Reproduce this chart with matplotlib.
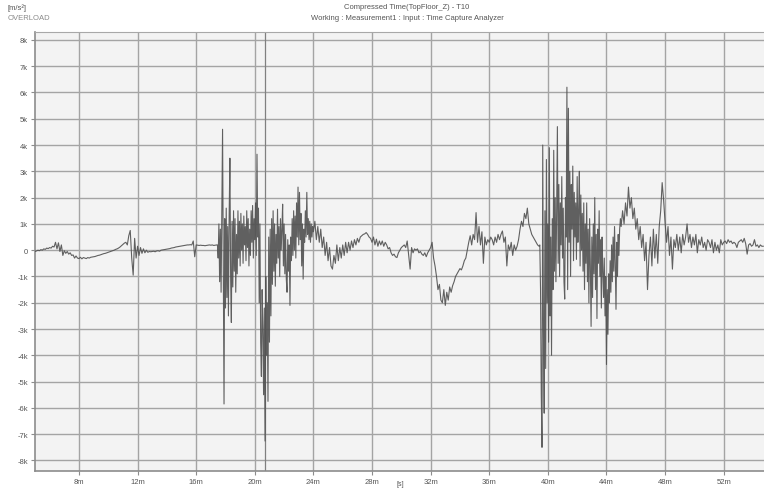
import numpy as np
import matplotlib
matplotlib.use("Agg")
import matplotlib.pyplot as plt

plt.rcParams['font.family'] = ['Liberation Sans Narrow', 'Liberation Sans', 'DejaVu Sans']

# Acceleration record, time axis in "m", amplitude in k (x1000 m/s^2).
# Each block is evenly sampled: start time, sample step, values.
pre_start, pre_step = 5.0, 0.1
pre_vals = [
    -0.05, -0.03, 0.0, -0.02, 0.02, 0.0, 0.05, 0.03, 0.08, 0.06,
    0.1, 0.08, 0.15, 0.12, 0.3, 0.05, 0.28, -0.05, 0.2, -0.2,
    -0.02, -0.12, -0.05, -0.15, -0.1, -0.2, -0.18, -0.3, -0.22, -0.3,
    -0.32, -0.27, -0.33, -0.28, -0.3, -0.32, -0.28, -0.3, -0.27, -0.26,
    -0.25, -0.24, -0.22, -0.2, -0.19, -0.17, -0.15, -0.13, -0.12, -0.1,
    -0.08, -0.06, -0.04, -0.02, 0.0, 0.03, 0.05, 0.08, 0.12, 0.17,
    0.22, 0.27, 0.3, 0.2, 0.55, 0.75, -0.3, -0.95, 0.45, -0.3,
    0.15, -0.2, 0.1, -0.12, 0.05, -0.1, 0.0, -0.08, -0.05, -0.06,
    -0.05, -0.04, -0.06, -0.03, -0.02, -0.04, 0.0, 0.01, 0.02, 0.03,
    0.04, 0.05, 0.06, 0.08, 0.09, 0.1, 0.12, 0.13, 0.14, 0.15,
    0.16, 0.17, 0.18, 0.19, 0.2, 0.2, 0.21, 0.2, 0.35, -0.25,
    0.2, 0.19, 0.18, 0.19, 0.18, 0.18, 0.17, 0.18, 0.19, 0.2,
    0.19, 0.2, 0.18, 0.19, 0.2,
]

burst1_start, burst1_step = 17.45, 0.05
burst1_vals = [
    0.2, -0.3, 1.0, -1.2, 0.8, -1.6, 1.5, 4.6, -1.0, -5.85,
    1.2, -2.2, 1.6, -1.8, 0.9, -2.5, 1.3, 3.5, -1.0, -2.75,
    1.1, -1.4, 1.5, -0.8, 1.2, -1.6, 0.6, -0.9, 1.5, -0.3,
    1.1, -0.6, 1.4, 0.0, 1.0, -0.5, 1.3, 0.2, 0.9, -0.4,
    1.5, 0.1, 1.2, -0.6, 0.8, -0.2, 1.5, 0.3, 1.7, -0.3,
    1.2, 0.4, 1.8, -0.2, 3.65, 0.5, 1.6, -2.0, 1.0, -3.5,
    -4.8, -1.5, -3.0, -5.5, -2.2, -7.26, -1.0, -4.0, -2.0, -5.75,
    0.5, -3.5, 0.8, -2.5, 1.2, -1.3, 1.5, -0.8, 1.0, -1.37,
    0.6, -0.5, 1.56, -0.3, 0.9, -1.0, 1.2, 0.0, 0.8, 1.75,
    -0.6, 1.0, -0.9, 0.6, -1.1, -1.6, 0.4, -0.8, 0.2, -2.1,
    0.5, -0.4, 1.2, -0.2, 1.5, 0.0, 1.3, -0.3, 1.8, 0.5,
    2.4, 0.2, 2.2, 0.4, 1.4, -0.6, 1.0, -1.1, 0.8, 0.3,
    1.5, 0.5, 2.2, 0.6, 1.2, 0.4, 1.1, 0.3, 1.0, 0.5,
    0.9,
]

mid_start, mid_step = 24.0, 0.1
mid_vals = [
    0.7, 1.1, 0.4, 0.9, 0.3, 0.8, 0.1, 0.5, -0.2, 0.3,
    -0.4, 0.1, -0.6, -0.72, -0.2, -0.5, 0.2, -0.4, 0.1, -0.3,
    0.2, -0.2, 0.3, -0.1, 0.3, 0.0, 0.35, 0.1, 0.4, 0.2,
    0.45, 0.3, 0.5, 0.55, 0.6, 0.62, 0.67, 0.6, 0.5, 0.45,
    0.3, 0.5, 0.2, 0.42, 0.15, 0.35, 0.2, 0.35, 0.15, 0.3,
    0.2, 0.05, 0.1, -0.1, -0.2, -0.15, -0.25, -0.28, -0.1, 0.0,
    0.1, 0.15, 0.2, 0.1, 0.35, -0.2, -0.72, 0.1, -0.1, 0.05,
    0.0, 0.05, -0.1, -0.05, -0.15, -0.2, -0.1, -0.25, -0.1, 0.0,
    0.1, 0.3, -0.3, -0.6, -1.0, -1.5, -1.3, -1.9, -2.0, -1.5,
    -2.1, -1.6, -1.9, -1.4, -1.6, -1.35, -1.2, -1.0, -0.9, -0.8,
    -0.7, -0.75, -0.6, -0.4, -0.3, 0.0, 0.3, 0.55, 0.2, 0.6,
    0.4, 1.43, 0.3, 0.9, 0.2, 0.7, -0.5, 0.5, 0.2, 0.4,
    0.3, 0.5, 0.4, 0.2, 0.5, 0.3, 0.6, 0.4, 0.6, 0.73,
    0.3, 0.5, -0.6, 0.2, 0.0, 0.3, -0.2, 0.2, 0.0, 0.15,
    0.4, 0.8, 1.1, 0.9, 1.4, 1.2, 1.6, 1.0, 0.8, 0.6,
    0.5, 0.4, 0.3, 0.2, 0.15,
]

burst2_start, burst2_step = 39.45, 0.05
burst2_vals = [
    0.2, -1.5, -5.5, -7.5, 4.0, -3.0, -6.2, 1.5, -4.5, 3.45,
    -2.0, 1.0, -3.5, 3.9, -2.5, 0.5, -4.0, 1.2, -1.5, 3.8,
    -0.8, 2.0, -1.2, 1.5, 4.7, -0.5, 2.5, -1.0, 1.8, 0.2,
    2.8, -0.3, 1.6, -1.2, -1.86, 2.0, 0.5, 6.2, -1.5, 5.4,
    0.3, 3.0, -1.0, 2.5, 0.8, 3.2, -0.4, 2.2, 0.5, 1.8,
    -0.35, 2.8, 0.3, 1.5, 3.0, -0.6, 2.1, 0.0, 1.4, -0.8,
    1.8, -1.5, 1.0, -0.5, 1.8, -1.2, 0.8, -2.0, 1.2, -0.6,
    -2.9, 0.5, -1.8, 1.0, -0.9, 2.0, -1.5, 0.6, -2.6, 0.8,
    -0.5, 1.5, -1.0, 0.4, -2.2, 0.5, -0.8, -1.8, -0.3, -2.5,
    -1.0, -4.35, -1.5, -3.2, -0.9, -2.0, -0.4, -1.6, 0.2, -1.2,
    0.5, -0.8, 0.9, -0.5, -2.25, 0.3, -1.0, 0.6, -0.2, 0.8,
    1.2,
]

tail_start, tail_step = 45.0, 0.1
tail_vals = [
    0.9, 1.5, 1.0, 1.8, 1.3, 2.4, 1.6, 2.0, 1.2, 1.6,
    0.8, 1.2, 0.4, 0.9, 0.1, 0.6, -0.4, 0.3, -1.5, -0.2,
    0.5, -0.6, 0.8, -0.3, 0.6, -0.5, 0.9, 1.5, 2.57, 1.9,
    1.05, 0.3, 0.9, -0.2, 0.5, -0.72, 0.4, 0.1, 0.6, 0.0,
    0.5, -0.1, 0.6, 0.2, 0.5, 1.0, 0.3, 0.6, 0.1, 0.5,
    0.2, 0.6, -0.1, 0.4, 0.2, 0.5, 0.1, 0.3, 0.0, 0.4,
    0.3, 0.1, 0.4, -0.1, 0.3, 0.0, 0.2, -0.1, 0.4, 0.2,
    0.3, 0.35, 0.25, 0.4, 0.3, 0.35, 0.25, 0.3, 0.25, 0.1,
    0.3, 0.35, 0.4, 0.3, 0.45, 0.25, -0.15, 0.2, 0.25, 0.15,
    0.2, 0.4, 0.15, 0.2, 0.1, 0.2, 0.15, 0.15,
]

cursor_t = 20.7

x_ticks = [8, 12, 16, 20, 24, 28, 32, 36, 40, 44, 48, 52]
x_labels = [f"{v}m" for v in x_ticks]
y_ticks = list(range(-8, 9))
y_labels = ["0" if v == 0 else f"{v}k" for v in y_ticks]


def block(start, step, vals):
    return start + step * np.arange(len(vals)), np.asarray(vals, dtype=float)


blocks = [block(pre_start, pre_step, pre_vals),
          block(burst1_start, burst1_step, burst1_vals),
          block(mid_start, mid_step, mid_vals),
          block(burst2_start, burst2_step, burst2_vals),
          block(tail_start, tail_step, tail_vals)]
t = np.concatenate([b[0] for b in blocks])
acc = np.concatenate([b[1] for b in blocks])

fig = plt.figure(figsize=(7.64, 4.89), dpi=100)
ax = fig.add_axes([35 / 764, 1 - 472 / 489, 729 / 764, 439 / 489])
ax.set_facecolor('#f3f3f3')

ax.set_xlim(5.0, 54.75)
ax.set_ylim(-8.4, 8.3)
ax.set_xticks(x_ticks)
ax.set_xticklabels(x_labels)
ax.set_yticks(y_ticks)
ax.set_yticklabels(y_labels)
ax.grid(True, color='#a4a4a4', lw=1.0)
ax.set_axisbelow(True)

ax.axvline(cursor_t, color='#808080', lw=0.9, zorder=1.5)
ax.plot(t, acc, color='#505050', lw=0.8, alpha=0.9, zorder=3)

for side in ('left', 'bottom'):
    ax.spines[side].set_color('#8c8c8c')
    ax.spines[side].set_linewidth(1.2)
ax.spines['top'].set_color('#a8a8a8')
ax.spines['right'].set_visible(False)
ax.tick_params(length=3, width=0.8, color='#8c8c8c', labelsize=5.5,
               labelcolor='#555555', pad=2)

grey = '#555555'
fig.text(8 / 764, 1 - 4 / 489, "[m/s²]", fontsize=5.5, color=grey, va='top')
fig.text(8 / 764, 1 - 15 / 489, "OVERLOAD", fontsize=5.5, color='#8a8a8a', va='top')
fig.text(407 / 764, 1 - 4 / 489, "Compressed Time(TopFloor_Z) - T10",
         fontsize=5.5, color=grey, ha='center', va='top')
fig.text(407 / 764, 1 - 15 / 489, "Working : Measurement1 : Input : Time Capture Analyzer",
         fontsize=5.5, color=grey, ha='center', va='top')
fig.text(400 / 764, 1 - 481 / 489, "[s]", fontsize=5, color=grey, ha='center', va='top')

fig.savefig("out.png", dpi=100)
